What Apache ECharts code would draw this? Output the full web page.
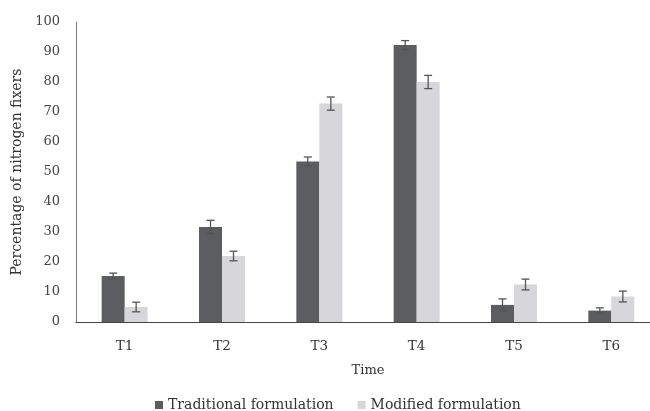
<!DOCTYPE html>
<html>
<head>
<meta charset="utf-8">
<script src="https://cdn.jsdelivr.net/npm/echarts@6/dist/echarts.min.js"></script>
<style>
html,body{margin:0;padding:0;background:#fff;}
#c{width:650px;height:411px;}
</style>
</head>
<body>
<div id="c"></div>
<script>
var categories = ['T1','T2','T3','T4','T5','T6'];
var traditional = [15.3, 31.7, 53.5, 92.3, 5.7, 3.8];
var modified = [5, 22, 72.8, 80, 12.5, 8.5];
var traditionalErr = [1, 2.2, 1.5, 1.5, 2, 0.9];
var modifiedErr = [1.6, 1.6, 2.2, 2.2, 1.8, 1.8];
var yTicks = [0,10,20,30,40,50,60,70,80,90,100];

var FONT = 'DejaVu Serif';
var BARW = 23;

function errSeries(vals, errs, sign){
  var data = vals.map(function(v,i){ return [i, v, errs[i]]; });
  return {
    type:'custom',
    data:data,
    z:10,
    silent:true,
    renderItem:function(params, api){
      var i = api.value(0), v = api.value(1), e = api.value(2);
      var top = api.coord([i, v+e]);
      var bot = api.coord([i, v-e]);
      var x = top[0] + sign*BARW/2;
      var cap = 4;
      var st = {stroke:'#555', lineWidth:1.3};
      return {type:'group', children:[
        {type:'line', shape:{x1:x,y1:top[1],x2:x,y2:bot[1]}, style:st},
        {type:'line', shape:{x1:x-cap,y1:top[1],x2:x+cap,y2:top[1]}, style:st},
        {type:'line', shape:{x1:x-cap,y1:bot[1],x2:x+cap,y2:bot[1]}, style:st}
      ]};
    }
  };
}

var chart = echarts.init(document.getElementById('c'), null, {renderer:'canvas'});
chart.setOption({
  backgroundColor:'#ffffff',
  animation:false,
  textStyle:{fontFamily:FONT},
  grid:{left:76, width:584, top:22, height:300, outerBoundsMode:'none', containLabel:false},
  legend:{
    top:393,
    left:150,
    itemWidth:8, itemHeight:8, itemGap:24,
    icon:'rect',
    textStyle:{fontFamily:FONT, fontSize:14, color:'#333'},
    data:['Traditional formulation','Modified formulation']
  },
  xAxis:{
    type:'category',
    data:categories,
    name:'Time',
    nameLocation:'middle',
    nameGap:42,
    nameTextStyle:{fontFamily:FONT, fontSize:13, color:'#333'},
    axisLine:{lineStyle:{color:'#444', width:1.2}},
    axisTick:{show:false},
    axisLabel:{fontFamily:FONT, fontSize:13.5, color:'#333', margin:17}
  },
  yAxis:{
    type:'value',
    min:0, max:100, interval:10,
    name:'Percentage of nitrogen fixers',
    nameLocation:'middle',
    nameGap:50,
    nameTextStyle:{fontFamily:FONT, fontSize:14, color:'#333'},
    axisLine:{show:true, lineStyle:{color:'#777', width:1}},
    axisTick:{show:false},
    splitLine:{show:false},
    axisLabel:{fontFamily:FONT, fontSize:13, color:'#444', margin:16,
      formatter:function(v){ return yTicks.indexOf(v)>=0 ? String(v) : ''; }}
  },
  series:[
    {name:'Traditional formulation', type:'bar', data:traditional, barWidth:BARW, barGap:'0%',
     itemStyle:{color:'#5c5d60'}},
    {name:'Modified formulation', type:'bar', data:modified, barWidth:BARW, barGap:'0%',
     itemStyle:{color:'#d6d6db'}},
    errSeries(traditional, traditionalErr, -1),
    errSeries(modified, modifiedErr, 1)
  ]
});
</script>
</body>
</html>
